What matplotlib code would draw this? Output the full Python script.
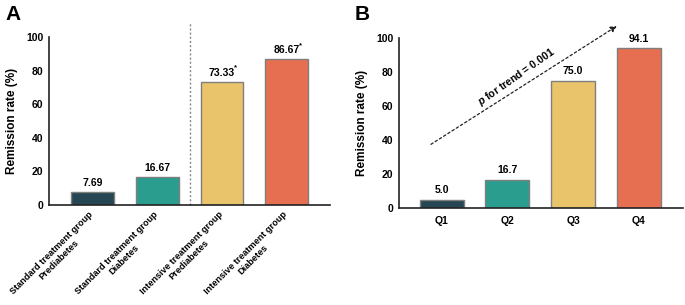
import matplotlib
matplotlib.use("Agg")
import matplotlib.pyplot as plt
import matplotlib.transforms as mtransforms

plt.rcParams['font.family'] = ['Liberation Sans', 'DejaVu Sans']
plt.rcParams['font.weight'] = 'bold'
plt.rcParams['mathtext.fontset'] = 'custom'
plt.rcParams['mathtext.it'] = 'Liberation Sans:italic:bold'
plt.rcParams['mathtext.bfit'] = 'Liberation Sans:italic:bold'
plt.rcParams['mathtext.rm'] = 'Liberation Sans:bold'

groups_a = ["Standard treatment group\nPrediabetes", "Standard treatment group\nDiabetes",
            "Intensive treatment group\nPrediabetes", "Intensive treatment group\nDiabetes"]
values_a = [7.69, 16.67, 73.33, 86.67]
labels_a = ["7.69", "16.67", "73.33", "86.67"]
stars_a = [False, False, True, True]

groups_b = ["Q1", "Q2", "Q3", "Q4"]
values_b = [5.0, 16.7, 75.0, 94.1]
labels_b = ["5.0", "16.7", "75.0", "94.1"]

colors = ["#264653", "#2a9d8f", "#e9c46a", "#e76f51"]
yticks = [0, 20, 40, 60, 80, 100]

fig = plt.figure(figsize=(6.85, 3.05), dpi=100)
axA = fig.add_axes([0.0715, 0.328, 0.4105, 0.551])
axB = fig.add_axes([0.5825, 0.318, 0.4145, 0.557])

def style(ax):
    ax.set_ylim(0, 100)
    ax.set_xlim(-0.67, 3.67)
    ax.set_yticks(yticks)
    ax.tick_params(axis='both', length=0, labelsize=7.5, pad=4)
    for s in ['top', 'right']:
        ax.spines[s].set_visible(False)
    for s in ['left', 'bottom']:
        ax.spines[s].set_linewidth(1.2)
        ax.spines[s].set_color('#222222')
    ax.set_ylabel("Remission rate (%)", fontsize=8.5, fontweight='bold', labelpad=6)
    for lab in ax.get_yticklabels():
        lab.set_fontweight('bold')

# Panel A
xa = range(len(values_a))
axA.bar(xa, values_a, width=0.66, color=colors, edgecolor='#7f7f7f', linewidth=1.0, zorder=2)
style(axA)
for i, (v, l, s) in enumerate(zip(values_a, labels_a, stars_a)):
    axA.text(i, v + 2.5, l, ha='center', va='bottom', fontsize=7.5, fontweight='bold')
    if s:
        axA.text(i + 0.185, v + 6.0, "*", ha='left', va='bottom', fontsize=5.5, fontweight='bold')
axA.set_xticks(list(xa))
axA.set_xticklabels(groups_a, rotation=45, ha='right', rotation_mode='anchor',
                    multialignment='center', fontsize=6.6, fontweight='bold')
axA.tick_params(axis='x', pad=4)
offset = mtransforms.ScaledTranslation(-4 / 100, 1 / 100, fig.dpi_scale_trans)
for lab in axA.get_xticklabels():
    lab.set_transform(lab.get_transform() + offset)
axA.plot([1.5, 1.5], [0, 109], ls=(0, (1.5, 1.5)), color='#888888', lw=1.0, clip_on=False, zorder=1)

# Panel B
xb = range(len(values_b))
axB.bar(xb, values_b, width=0.67, color=colors, edgecolor='#7f7f7f', linewidth=1.0, zorder=2)
style(axB)
axB.set_xlim(-0.65, 3.67)
for i, (v, l) in enumerate(zip(values_b, labels_b)):
    axB.text(i, v + 2.5, l, ha='center', va='bottom', fontsize=7.5, fontweight='bold')
axB.set_xticks(list(xb))
axB.set_xticklabels(groups_b, fontsize=7.5, fontweight='bold')
axB.tick_params(axis='x', pad=6)
axB.annotate("", xy=(2.7, 108), xytext=(-0.2, 36.6),
             arrowprops=dict(arrowstyle='-|>', ls=(0, (2, 2)), color='#222222', lw=0.9,
                             mutation_scale=9), annotation_clip=False)
axB.text(1.14, 77, r"$\mathit{p}$ for trend = 0.001", rotation=35, ha='center', va='center',
         fontsize=7.5, fontweight='bold', rotation_mode='anchor')

fig.text(0.008, 0.985, "A", fontsize=15, fontweight='bold', va='top', ha='left')
fig.text(0.518, 0.985, "B", fontsize=15, fontweight='bold', va='top', ha='left')

fig.savefig("out.png", dpi=100)
